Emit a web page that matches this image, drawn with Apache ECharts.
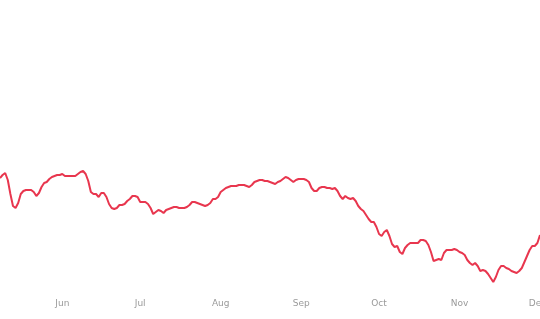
<!DOCTYPE html>
<html>
<head>
<meta charset="utf-8">
<script src="https://cdn.jsdelivr.net/npm/echarts@6/dist/echarts.min.js"></script>
<style>
html,body{margin:0;padding:0;background:#fff;}
#chart{width:540px;height:319px;}
</style>
</head>
<body>
<div id="chart"></div>
<script>
// Daily series, 2024-05-08 .. 2024-12-02
const startDate = '2024-05-08';
const monthNames = ['Jan','Feb','Mar','Apr','May','Jun','Jul','Aug','Sep','Oct','Nov','Dec'];
const values = [
  56, 57.5, 58.5, 55, 48, 42, 41, 43.5, 48, 49.5,
  50, 50, 50, 49, 47, 48.5, 51.5, 53.5, 54, 55.5,
  56.5, 57, 57.5, 57.5, 58, 57, 57, 57, 57, 57,
  58, 59, 59.5, 58, 54.5, 49, 48, 48, 46.5, 48.5,
  48.5, 46.5, 43, 41, 40.5, 41, 42.5, 42.5, 43, 44.5,
  45.5, 47, 47, 46.5, 44, 44, 44, 43, 41, 38,
  39, 40, 39.5, 38.5, 40, 40.5, 41, 41.5, 41.5, 41,
  41, 41, 41.5, 42.5, 44, 44, 43.5, 43, 42.5, 42,
  42.5, 43.5, 45.5, 45.5, 46.5, 49, 50, 51, 51.5, 52,
  52, 52, 52.5, 52.5, 52.5, 52, 51.5, 52.5, 54, 54.5,
  55, 55, 54.5, 54.5, 54, 53.5, 53, 54, 54.5, 55.5,
  56.5, 56, 55, 54, 55, 55.5, 55.5, 55.5, 55, 54,
  51, 49.5, 49.5, 51, 51.5, 51.5, 51, 51, 50.5, 51,
  49.5, 47, 45.5, 47, 46, 45.5, 46, 44.5, 42, 40.5,
  39.5, 37.5, 35.5, 34, 34, 31.5, 28, 27, 29, 30,
  27, 23, 21.5, 22, 19, 18, 21, 22.5, 23.5, 23.5,
  23.5, 23.5, 25, 25, 24.5, 22.5, 19, 14.5, 15, 15.5,
  15, 18.5, 20, 20, 20, 20.5, 20, 19, 18.5, 17.5,
  15, 13.5, 12.5, 13.5, 12, 9.5, 10, 9.5, 8, 6,
  4, 6.5, 10, 12, 12, 11, 10.5, 9.5, 9, 8.5,
  9.5, 11, 14, 17, 20, 22, 22, 23.5, 27.5
];

function pad(n){return n<10?'0'+n:''+n;}
const dates = [];
{
  const d = new Date(startDate + 'T00:00:00Z');
  for (let i = 0; i < values.length; i++) {
    dates.push(d.getUTCFullYear() + '-' + pad(d.getUTCMonth()+1) + '-' + pad(d.getUTCDate()));
    d.setUTCDate(d.getUTCDate() + 1);
  }
}

const chart = echarts.init(document.getElementById('chart'), null, {renderer:'canvas'});
chart.setOption({
  animation: false,
  backgroundColor: '#ffffff',
  grid: {left: 0, right: 0, top: 0, bottom: 29, containLabel: false, outerBoundsMode: 'none'},
  xAxis: {
    type: 'category',
    data: dates,
    boundaryGap: false,
    axisLine: {show: false},
    axisTick: {show: false},
    splitLine: {show: false},
    axisLabel: {
      interval: function(idx, val){ return val.slice(8) === '01'; },
      formatter: function(val){ return monthNames[parseInt(val.slice(5,7),10)-1]; },
      color: '#9a9a9a',
      fontSize: 9,
      fontFamily: 'DejaVu Sans, sans-serif',
      margin: 9,
      hideOverlap: false
    }
  },
  yAxis: {
    type: 'value',
    min: 0,
    max: 145,
    show: false,
    splitLine: {show: false}
  },
  series: [{
    type: 'line',
    data: values,
    showSymbol: false,
    symbol: 'none',
    smooth: false,
    lineStyle: {color: '#e8364e', width: 2},
    itemStyle: {color: '#e8364e'}
  }]
});
</script>
</body>
</html>
